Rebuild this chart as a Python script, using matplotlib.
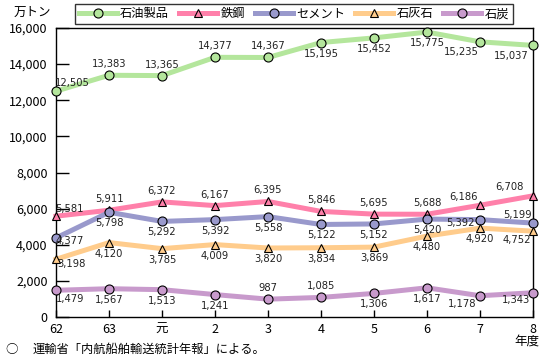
import matplotlib
matplotlib.use("Agg")
import matplotlib.pyplot as plt
from matplotlib.ticker import FuncFormatter

plt.rcParams['font.family'] = ['Noto Sans CJK JP', 'DejaVu Sans']

years = ["62", "63", "元", "2", "3", "4", "5", "6", "7", "8"]
sekiyu = [12505, 13383, 13365, 14377, 14367, 15195, 15452, 15775, 15235, 15037]
tekko = [5581, 5911, 6372, 6167, 6395, 5846, 5695, 5688, 6186, 6708]
cement = [4377, 5798, 5292, 5392, 5558, 5122, 5152, 5420, 5392, 5199]
sekkai = [3198, 4120, 3785, 4009, 3820, 3834, 3869, 4480, 4920, 4752]
sekitan = [1479, 1567, 1513, 1241, 987, 1085, 1306, 1617, 1178, 1343]

# label offsets in pixels (dx, dy) for each point
A, B = (0, 11), (0, -11)
off_sekiyu = [(16, 8), A, A, A, A, B, B, B, (-19, -10), (-22, -11)]
off_tekko = [(13, 7), A, A, A, A, A, A, A, (-17, 8), (-24, 9)]
off_cement = [(14, -3), B, B, B, B, B, B, B, (-20, -3), (-16, 8)]
off_sekkai = [(15, -5), B, B, B, B, B, B, B, B, (-16, -9)]
off_sekitan = [(14, -9), B, B, B, A, A, B, B, (-18, -8), (-17, -7)]

series = [
    ("石油製品", sekiyu, "#b4e69c", "o", off_sekiyu),
    ("鉄鋼", tekko, "#ff80aa", "^", off_tekko),
    ("セメント", cement, "#9999cc", "o", off_cement),
    ("石灰石", sekkai, "#ffcc8c", "^", off_sekkai),
    ("石炭", sekitan, "#c89acc", "o", off_sekitan),
]

fig = plt.figure(figsize=(5.5, 3.59), dpi=100)
ax = fig.add_axes([56 / 550, 1 - 317 / 359, 477 / 550, 289 / 359])
x = list(range(len(years)))

for name, vals, col, mk, offs in series:
    ax.plot(x, vals, color=col, lw=3.6, marker=mk, ms=6.5 if mk == "o" else 6,
             mfc=col, mec="black", mew=0.8, label=name, clip_on=False, zorder=3)
    for xi, v, (dx, dy) in zip(x, vals, offs):
        ax.annotate(f"{v:,}", (xi, v), xytext=(dx, dy), textcoords="offset pixels",
                    ha="center", va="center", fontsize=7.2, color="#222222",
                    family=['DejaVu Sans'], zorder=4)

ax.set_xlim(0, 9)
ax.set_ylim(0, 16000)
ax.set_xticks(x)
ax.set_xticklabels(years, fontsize=9)
ax.set_yticks(range(0, 16001, 2000))
ax.yaxis.set_major_formatter(FuncFormatter(lambda v, p: f"{int(v):,}"))
ax.tick_params(axis="y", direction="in", length=9, width=1, labelsize=9, pad=6)
ax.tick_params(axis="x", direction="in", length=5, width=1, pad=4)
for s in ax.spines.values():
    s.set_linewidth(1)

fig.text(14 / 550, 1 - 12 / 359, "万トン", fontsize=9, va="center", ha="left")
fig.text(527 / 550, 1 - 341 / 359, "年度", fontsize=9, va="center", ha="center")
fig.text(5 / 550, 1 - 349 / 359, "○", fontsize=9, va="center", ha="left")
fig.text(33 / 550, 1 - 349 / 359, "運輸省「内航船舶輸送統計年報」による。", fontsize=8.8,
         va="center", ha="left")

leg = fig.legend(loc="center", bbox_to_anchor=(294 / 550, 1 - 14 / 359), ncol=5,
                 fontsize=8.8, frameon=True, fancybox=False, handlelength=3.1,
                 handletextpad=0.3, columnspacing=0.8, borderpad=0.3,
                 borderaxespad=0)
leg.get_frame().set_edgecolor("black")
leg.get_frame().set_linewidth(1)

fig.savefig("out.png", dpi=100)
